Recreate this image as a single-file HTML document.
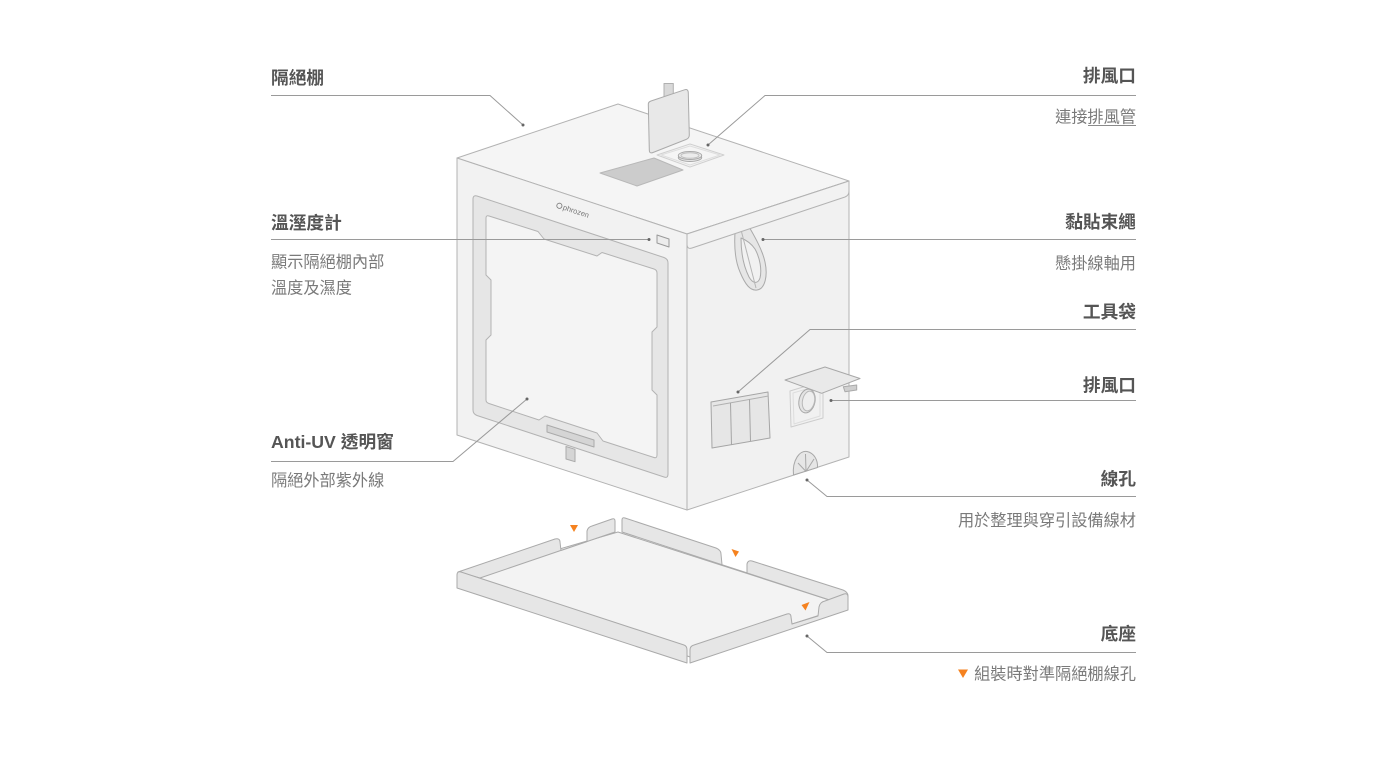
<!DOCTYPE html>
<html>
<head>
<meta charset="utf-8">
<style>
  html,body{margin:0;padding:0;background:#ffffff;}
  body{width:1400px;height:759px;overflow:hidden;}
  svg{display:block;}
  .t{font-family:"Liberation Sans","Noto Sans CJK TC",sans-serif;font-size:17.7px;font-weight:bold;fill:#555555;}
  .d{font-family:"Liberation Sans","Noto Sans CJK TC",sans-serif;font-size:16.2px;fill:#7a7a7a;}
</style>
</head>
<body>
<svg width="1400" height="759" viewBox="0 0 1400 759" xmlns="http://www.w3.org/2000/svg">
  <!-- ================= TRAY ================= -->
  <g stroke="#aaaaaa" stroke-width="1" stroke-linejoin="round">
    <polygon points="618,532 848,606 690,657 470,575" fill="#f3f3f3"/>
    <!-- back-left wall inner face -->
    <path d="M458,572 L555,539 Q560,538 560,542 L561,550.5 L587,541.6 L587,531 Q588,527 592,526 L612,519 Q615,518 615,521 L615,532 L480,578 Z" fill="#e6e6e6"/>
    <!-- back-right wall inner face -->
    <path d="M622,532 L622,520 Q622,517 625,518 L716,548 Q721,550 721,554 L722,564.7 L747,572.9 L747,564 Q748,560 752,561 L843,590 Q848,592 848,596 L848,606 Z" fill="#e6e6e6"/>
    <!-- front-left face -->
    <path d="M457,575 Q457,571 461,572 L684,645 Q687,646 687,650 L687,663 L457,588 Z" fill="#e6e6e6"/>
    <!-- front-right face -->
    <path d="M690,663 L690,650 Q690,646 694,645 L787,614 Q791,613 791,617 L792,624 L818,616 L819,607 Q820,602 825,601 L844,594 Q848,593 848,597 L848,610 Z" fill="#e6e6e6"/>
  </g>
  <g fill="#f5821f">
    <polygon points="570,525 578,525 574,532"/>
    <polygon points="731.5,549 739,551.5 735.5,557"/>
    <polygon points="801.5,605 809.5,602 805.5,610.5"/>
  </g>

  <!-- ================= BOX ================= -->
  <g stroke="#b3b3b3" stroke-width="1" stroke-linejoin="round">
    <polygon points="457,158 618,104 849,181 687,234" fill="#f5f5f5"/>
    <polygon points="457,158 687,234 687,510 457,435" fill="#f2f2f2"/>
    <polygon points="687,234 849,181 849,457 687,510" fill="#f1f1f1"/>

    <!-- top: dark filter square -->
    <polygon points="600,173 654,158 683,170 637,186" fill="#cccccc" stroke="#b8b8b8"/>
    <!-- top: exhaust square -->
    <polygon points="657,155 690,144 724,155 690,167" fill="none" stroke="#d0d0d0"/>
    <polygon points="661,155 690,146 720,155 690,165" fill="none" stroke="#dedede"/>
    <ellipse cx="690" cy="157.5" rx="11.7" ry="4" fill="#e2e2e2" stroke="#a8a8a8"/>
    <ellipse cx="690" cy="155.5" rx="11.7" ry="4" fill="#ececec" stroke="#a8a8a8"/>
    <ellipse cx="690" cy="155.5" rx="9" ry="2.8" fill="none" stroke="#c0c0c0"/>
    <!-- top: flap -->
    <polygon points="664,99 664,83.5 673.3,83.5 673.3,96" fill="#d9d9d9" stroke="#b0b0b0"/>
    <path d="M648.3,104 L649.3,150 Q649.3,154 653,152.5 L686,139.5 Q689.3,138.3 689.3,135 L688.3,93 Q688.3,88.5 684.5,89.8 L651,101 Q648.3,102 648.3,104 Z" fill="#e8e8e8" stroke="#aaaaaa"/>

    <!-- front: frame -->
    <path d="M473,199 Q473,195 477,196 L664,257.5 Q668,259 668,263 L668,474 Q668,478.5 664,477 L477,415.5 Q473,414 473,410 Z" fill="#e6e6e6"/>
    <path d="M486,218 Q486,215 489,216 L538,231.5 L544,239 L597,256 L602,252.5 L654,269 Q657,270 657,273 L657,327 L652,332 L652,390 L657,395 L657,455 Q657,458.5 654,457.5 L603,441 L597,433 L545,416 L539,420 L489,403.5 Q486,402.5 486,400 L486,340 L491,335 L491,280 L486,275 Z" fill="#f4f4f4"/>
    <!-- slot and tab -->
    <polygon points="547,425 594,440 594,447 547,432" fill="#d5d5d5" stroke="#aaaaaa"/>
    <polygon points="566,446.5 575,449.3 575,461.7 566,459" fill="#d5d5d5" stroke="#aaaaaa"/>
    <!-- thermometer -->
    <polygon points="657,235 669,239 669,247 657,243" fill="#ececec" stroke="#999999"/>

    <!-- right: strap loop -->
    <path d="M736.5,218 C734,236 733,256 740,272 C745,284 750,291 757,290 C765,289 768,276 765,262 C762,248 752,232 744,218 Z" fill="#e6e6e6" stroke="#aaaaaa"/>
    <path d="M741,238 C741,253 744,267 749,277 C753,284 758,284 760,278 C762,270 760,258 755,249 C751,243 746,240 741,238 Z" fill="#f1f1f1" stroke="#aaaaaa"/>
    <line x1="739" y1="222" x2="756" y2="288" stroke="#b5b5b5"/>
    <!-- right: lid band -->
    <path d="M687,234 L849,181 L849,191 Q849,195.5 845,197 L692,248 Q687.5,249.5 687,245 Z" fill="#f2f2f2"/>

    <!-- right: tool bag -->
    <polygon points="711,402 768,392 770,438 712,448" fill="#e6e6e6" stroke="#a5a5a5"/>
    <line x1="713" y1="406" x2="768.5" y2="396" stroke="#b0b0b0"/>
    <line x1="730.5" y1="403" x2="731.5" y2="445" stroke="#a5a5a5"/>
    <line x1="749.5" y1="399.5" x2="750.5" y2="441.5" stroke="#a5a5a5"/>

    <!-- right: side exhaust -->
    <polygon points="790,391 823,381 823,418 791,427" fill="none" stroke="#cdcdcd"/>
    <polygon points="793,393 820,385 820,416 794,424" fill="none" stroke="#dddddd"/>
    <ellipse cx="807" cy="401" rx="8" ry="12" fill="#e4e4e4" stroke="#a8a8a8" transform="rotate(12 807 401)"/>
    <ellipse cx="808.5" cy="401" rx="6" ry="10" fill="#eeeeee" stroke="#b8b8b8" transform="rotate(12 808.5 401)"/>
    <polygon points="843.3,386.7 856.7,385 856.7,390 845,391.7" fill="#cfcfcf" stroke="#aaaaaa"/>
    <polygon points="785,380 825,367 860,378.5 821.7,393.3" fill="#e9e9e9" stroke="#a8a8a8"/>

    <!-- right: cable hole -->
    <path d="M793.5,475 C792,460 800,450 807,451.5 C814,453 818,460 817.5,467.5 Z" fill="#e6e6e6" stroke="#a8a8a8"/>
    <g stroke="#a8a8a8">
      <line x1="806" y1="471.5" x2="798" y2="463"/>
      <line x1="806" y1="471.5" x2="805.5" y2="454"/>
      <line x1="806" y1="471.5" x2="814" y2="459"/>
    </g>
  </g>

  <!-- logo -->
  <g transform="translate(557,205) rotate(18)">
    <circle cx="2.5" cy="0" r="2.6" fill="none" stroke="#777" stroke-width="0.8"/>
    <text x="6.5" y="2.6" font-family="Liberation Sans, sans-serif" font-size="7.5" fill="#777777">phrozen</text>
  </g>

  <!-- ================= LEADERS ================= -->
  <g stroke="#9a9a9a" stroke-width="1" fill="none">
    <polyline points="271,95.5 490,95.5 523,125"/>
    <polyline points="271,239.5 649,239.5"/>
    <polyline points="271,461.5 453,461.5 527,399"/>
    <polyline points="1136,95.5 765,95.5 708,145"/>
    <polyline points="1136,239.5 763,239.5"/>
    <polyline points="1136,329.5 810,329.5 738,392"/>
    <polyline points="1136,400.5 831,400.5"/>
    <polyline points="1136,496.5 827,496.5 807,480"/>
    <polyline points="1136,652.5 827,652.5 807,636"/>
  </g>
  <g fill="#666666">
    <circle cx="523" cy="125" r="1.5"/>
    <circle cx="649" cy="239.5" r="1.5"/>
    <circle cx="527" cy="399" r="1.5"/>
    <circle cx="708" cy="145" r="1.5"/>
    <circle cx="763" cy="239.5" r="1.5"/>
    <circle cx="738" cy="392" r="1.5"/>
    <circle cx="831" cy="400.5" r="1.5"/>
    <circle cx="807" cy="480" r="1.5"/>
    <circle cx="807" cy="636" r="1.5"/>
  </g>

  <!-- ================= LABELS LEFT ================= -->
  <text class="t" x="271" y="84">隔絕棚</text>
  <text class="t" x="271" y="229">溫溼度計</text>
  <text class="d" x="271" y="267.5">顯示隔絕棚內部</text>
  <text class="d" x="271" y="293.5">溫度及濕度</text>
  <text class="t" x="271" y="448">Anti-UV 透明窗</text>
  <text class="d" x="271" y="486">隔絕外部紫外線</text>

  <!-- ================= LABELS RIGHT ================= -->
  <g text-anchor="end">
    <text class="t" x="1136" y="82">排風口</text>
    <text class="d" x="1136" y="122.5">連接排風管</text>
    <text class="t" x="1136" y="228">黏貼束繩</text>
    <text class="d" x="1136" y="269">懸掛線軸用</text>
    <text class="t" x="1136" y="318">工具袋</text>
    <text class="t" x="1136" y="391.5">排風口</text>
    <text class="t" x="1136" y="485">線孔</text>
    <text class="d" x="1136" y="526">用於整理與穿引設備線材</text>
    <text class="t" x="1136" y="640">底座</text>
    <text class="d" x="1136" y="679.5">組裝時對準隔絕棚線孔</text>
  </g>
  <line x1="1088" y1="125.5" x2="1136" y2="125.5" stroke="#8a8a8a" stroke-width="1"/>
  <polygon points="958,669.5 968,669.5 963,678" fill="#f5821f"/>
</svg>
</body>
</html>
